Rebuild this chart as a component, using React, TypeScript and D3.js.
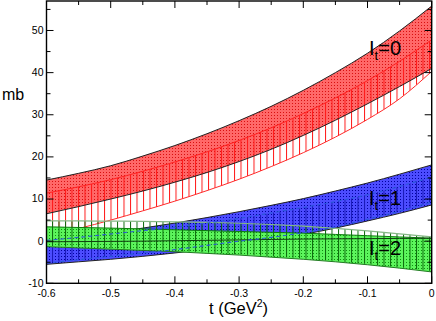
import React from "react";
import * as d3 from "d3";

const W = 436;
const H = 321;

// t grid (GeV^2)
const tGrid = [-0.6, -0.55, -0.5, -0.45, -0.4, -0.35, -0.3, -0.25, -0.2, -0.15, -0.1, -0.05, 0];

// I_t = 0 (red)
const red0Upper = [14.5, 16.1, 17.9, 20.2, 22.7, 25.5, 28.6, 32.0, 35.8, 40.0, 44.6, 49.9, 55.8];
const red0Lower = [6.5, 8.2, 10.0, 11.9, 14.0, 16.3, 18.9, 21.8, 25.1, 28.7, 32.6, 36.7, 41.0];
const red1Upper = [11.4, 12.9, 14.6, 16.6, 18.8, 21.2, 23.9, 26.9, 30.3, 34.0, 38.1, 42.7, 47.8];
const red1Lower = [1.2, 3.0, 5.0, 7.2, 9.5, 12.0, 14.7, 17.7, 21.0, 24.7, 28.9, 33.8, 40.3];

// I_t = 1 (blue)
const blue0Upper = [0.0, 1.0, 2.0, 3.1, 4.3, 5.6, 7.0, 8.5, 10.1, 11.9, 13.8, 15.9, 18.1];
const blue0Lower = [-5.5, -4.9, -4.3, -3.6, -2.8, -1.9, -0.9, 0.3, 1.6, 3.1, 4.8, 6.6, 8.6];
const blue1Upper = [0.2, 0.9, 1.7, 2.5, 3.3, 4.3, 5.4, 6.7, 8.0, 9.4, 11.0, 13.0, 15.2];
const blue1Lower = [-5.2, -4.4, -3.6, -2.8, -2.0, -1.0, 0.0, 0.9, 2.0, 3.4, 5.2, 7.1, 9.3];

// I_t = 2 (green)
const green0Upper = [3.4, 3.25, 3.1, 2.9, 2.7, 2.5, 2.3, 2.1, 1.9, 1.6, 1.3, 1.0, 0.7];
const green0Lower = [-1.3, -1.6, -1.9, -2.2, -2.5, -2.9, -3.3, -3.8, -4.3, -4.9, -5.6, -6.4, -7.3];
const green1Upper = [4.8, 4.8, 4.75, 4.7, 4.6, 4.45, 4.25, 3.95, 3.55, 3.05, 2.45, 1.75, 1.0];
const green1Lower = [-1.1, -1.4, -1.7, -2.0, -2.3, -2.7, -3.1, -3.6, -4.1, -4.7, -5.4, -6.2, -7.1];
const green1Center = [-0.15, -0.1, -0.05, 0.0, 0.1, 0.2, 0.3, 0.4, 0.5, 0.55, 0.6, 0.65, 0.7];

// axes
const xMajor = [-0.6, -0.5, -0.4, -0.3, -0.2, -0.1, 0];
const xMajorLabels = ["-0.6", "-0.5", "-0.4", "-0.3", "-0.2", "-0.1", "0"];
const xMinor = [-0.55, -0.45, -0.35, -0.25, -0.15, -0.05];
const yMajor = [-10, 0, 10, 20, 30, 40, 50];
const yMajorLabels = ["-10", "0", "10", "20", "30", "40", "50"];
const yMinor = [-5, 5, 15, 25, 35, 45, 55];

const bandLabels = [
  { it: "0", v: 44.3 },
  { it: "1", v: 8.7 },
  { it: "2", v: -3.4 },
];

export default function App() {
  const x = d3.scaleLinear().domain([-0.6, 0]).range([46.5, 431.7]);
  const y = d3.scaleLinear().domain([-10, 57]).range([283.3, 1]);
  const x0 = x(-0.6), x1 = x(0), yTop = y(57), yBot = y(-10);

  const area = (lo: number[], hi: number[]) =>
    d3
      .area<number>()
      .x((t) => x(t))
      .y0((_, i) => y(lo[i]))
      .y1((_, i) => y(hi[i]))
      .curve(d3.curveMonotoneX)(tGrid) as string;
  const line = (v: number[]) =>
    d3
      .line<number>()
      .x((t) => x(t))
      .y((_, i) => y(v[i]))
      .curve(d3.curveMonotoneX)(tGrid) as string;

  const font = "'Liberation Sans', Arial, Helvetica, sans-serif";

  return (
    <svg
      width={W}
      height={H}
      viewBox={`0 0 ${W} ${H}`}
      style={{ position: "absolute", left: 0, top: 0, background: "#fff" }}
    >
      <defs>
        <clipPath id="plotClip">
          <rect x={x0} y={yTop} width={x1 - x0} height={yBot - yTop} />
        </clipPath>
        <pattern id="dotRed" patternUnits="userSpaceOnUse" width={3} height={3}>
          <rect width={3} height={3} fill="#ff6868" />
          <rect x={1} y={1} width={1} height={1} fill="#d81010" />
        </pattern>
        <pattern id="dotBlue" patternUnits="userSpaceOnUse" width={3} height={3}>
          <rect width={3} height={3} fill="#4c4cff" />
          <rect x={1} y={1} width={1} height={1} fill="#0000a0" />
        </pattern>
        <pattern id="dotGreen" patternUnits="userSpaceOnUse" width={3} height={3}>
          <rect width={3} height={3} fill="#5cf55c" />
          <rect x={1} y={1} width={1} height={1} fill="#109010" />
        </pattern>
        <pattern id="hatchRed" patternUnits="userSpaceOnUse" width={6.5} height={4}>
          <rect x={0} y={0} width={1} height={4} fill="#ff1a1a" />
        </pattern>
        <pattern id="hatchBlue" patternUnits="userSpaceOnUse" width={6.5} height={4}>
          <rect x={0} y={0} width={1} height={4} fill="#1a1ab8" />
        </pattern>
        <pattern id="hatchGreen" patternUnits="userSpaceOnUse" width={6.5} height={4}>
          <rect x={0} y={0} width={1} height={4} fill="#0d6a0d" />
        </pattern>
      </defs>

      <g clipPath="url(#plotClip)">
        {/* I_t = 0 */}
        <path d={area(red0Lower, red0Upper)} fill="url(#dotRed)" />
        <path d={area(red1Lower, red1Upper)} fill="url(#hatchRed)" />
        <path d={line(red1Upper)} fill="none" stroke="#ff2020" strokeWidth={1} />
        <path d={line(red1Lower)} fill="none" stroke="#ff2a2a" strokeWidth={1} />
        <path d={line(red0Upper)} fill="none" stroke="#222" strokeWidth={1} />
        <path d={line(red0Lower)} fill="none" stroke="#222" strokeWidth={1} />

        {/* I_t = 1 */}
        <path d={area(blue0Lower, blue0Upper)} fill="url(#dotBlue)" />
        <path d={area(blue1Lower, blue1Upper)} fill="url(#hatchBlue)" />
        <path d={line(blue0Upper)} fill="none" stroke="#222" strokeWidth={1} />
        <path d={line(blue0Lower)} fill="none" stroke="#222" strokeWidth={1} />

        {/* I_t = 2 */}
        <path d={area(green0Lower, green0Upper)} fill="url(#dotGreen)" />
        <path d={area(green1Lower, green1Upper)} fill="url(#hatchGreen)" />
        <path d={line(green1Upper)} fill="none" stroke="#86b886" strokeWidth={1.2} />
        <path d={line(green0Upper)} fill="none" stroke="#0c7a0c" strokeWidth={1} />
        <path d={line(green0Lower)} fill="none" stroke="#237a23" strokeWidth={1} />
        <path d={line(green1Center)} fill="none" stroke="#104010" strokeWidth={1} />

        {/* I_t = 1 dashed edges on top */}
        <path d={line(blue1Upper)} fill="none" stroke="#2a5ad8" strokeWidth={1.1} strokeDasharray="4,3" />
        <path d={line(blue1Lower)} fill="none" stroke="#2a5ad8" strokeWidth={1.1} strokeDasharray="4,3" />
      </g>

      {/* band labels */}
      {bandLabels.map((b) => (
        <text key={b.it} x={369} y={y(b.v)} fontFamily={font} fontSize={20} fill="#000">
          I
          <tspan fontSize={13} dy={5}>t</tspan>
          <tspan dy={-5}>={b.it}</tspan>
        </text>
      ))}

      {/* frame */}
      <rect x={x0} y={yTop} width={x1 - x0} height={yBot - yTop} fill="none" stroke="#000" strokeWidth={1.4} />

      {/* ticks */}
      <g stroke="#000" strokeWidth={1}>
        {xMajor.map((t) => (
          <g key={"xM" + t}>
            <line x1={x(t)} x2={x(t)} y1={yBot} y2={yBot - 7} />
            <line x1={x(t)} x2={x(t)} y1={yTop} y2={yTop + 7} />
          </g>
        ))}
        {xMinor.map((t) => (
          <g key={"xm" + t}>
            <line x1={x(t)} x2={x(t)} y1={yBot} y2={yBot - 4} />
            <line x1={x(t)} x2={x(t)} y1={yTop} y2={yTop + 4} />
          </g>
        ))}
        {yMajor.map((v) => (
          <g key={"yM" + v}>
            <line x1={x0} x2={x0 + 7} y1={y(v)} y2={y(v)} />
            <line x1={x1} x2={x1 - 7} y1={y(v)} y2={y(v)} />
          </g>
        ))}
        {yMinor.map((v) => (
          <g key={"ym" + v}>
            <line x1={x0} x2={x0 + 4} y1={y(v)} y2={y(v)} />
            <line x1={x1} x2={x1 - 4} y1={y(v)} y2={y(v)} />
          </g>
        ))}
      </g>

      {/* tick labels */}
      <g fontFamily={font} fontSize={10.5} fill="#000">
        {xMajor.map((t, i) => (
          <text key={"xl" + t} x={x(t)} y={296.5} textAnchor="middle">
            {xMajorLabels[i]}
          </text>
        ))}
        {yMajor.map((v, i) => (
          <text key={"yl" + v} x={43.5} y={y(v) + 3.4} textAnchor="end">
            {yMajorLabels[i]}
          </text>
        ))}
      </g>

      {/* axis titles */}
      <text x={2} y={100} fontFamily={font} fontSize={16} fill="#000">mb</text>
      <text x={238.5} y={314} fontFamily={font} fontSize={16.5} fill="#000" textAnchor="middle">
        t (GeV<tspan fontSize={10.5} dy={-7}>2</tspan>
        <tspan dy={7}>)</tspan>
      </text>
    </svg>
  );
}
